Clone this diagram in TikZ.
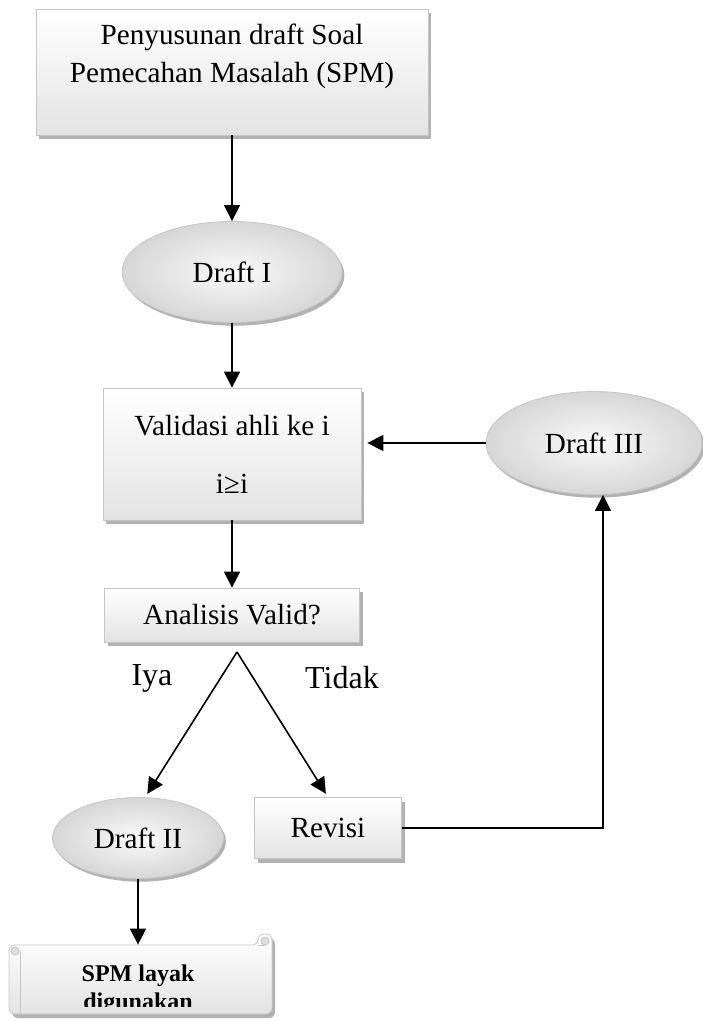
\documentclass[tikz,border=0pt]{standalone}
\usepackage{fontspec}
\setmainfont{Liberation Serif}
\usetikzlibrary{arrows.meta,shapes.geometric,shadows}

\begin{document}
\begin{tikzpicture}[x=0.5pt,y=-0.5pt,
  font=\fontsize{14.6}{19}\selectfont,
  kotak/.style={draw=gray!45,top color=white,bottom color=gray!22,
    inner sep=0pt,align=center,
    drop shadow={shadow xshift=1.6pt,shadow yshift=-2pt,fill=gray!60,opacity=1}},
  oval/.style={ellipse,draw=gray!45,inner color=gray!4,outer color=gray!32,
    inner sep=0pt,
    drop shadow={shadow xshift=1.2pt,shadow yshift=-1.6pt,fill=gray!60,opacity=1}},
  label/.style={font=\fontsize{16}{19}\selectfont},
  arr/.style={-{Triangle[length=8pt,width=8pt]},line width=0.8pt}]
  \useasboundingbox (0,0) rectangle (702,1021);

  \node[kotak,minimum width=196pt,minimum height=63pt] (susun) at (232,72)
    {Penyusunan draft Soal\\ Pemecahan Masalah (SPM)\\ \mbox{}};
  \node[oval,minimum width=110pt,minimum height=50.5pt] (d1) at (232,272) {Draft I};
  \node[kotak,minimum width=129pt,minimum height=66pt] (valid) at (232,454)
    {Validasi ahli ke i\\[10pt] i≥i};
  \node[kotak,minimum width=127.5pt,minimum height=27pt] (anal) at (232,615)
    {Analisis Valid?};
  \coordinate (cabang) at (237,652);
  \node[label] (iya) at (152,678) {Iya};
  \node[label] (tidak) at (342,678) {Tidak};
  \node[oval,minimum width=85.5pt,minimum height=40.5pt] (d2) at (138,838) {Draft II};
  \node[kotak,minimum width=73.5pt,minimum height=30.5pt] (rev) at (328,828) {Revisi};
  \node[oval,minimum width=108pt,minimum height=51.5pt] (d3) at (594,443) {Draft III};

  % gulungan (scroll) di bawah
  \fill[gray!60,rounded corners=3pt] (12,1018) -- (12,949) -- (261,949)
    -- (261,938) -- (275,938) -- (275,1018) -- cycle;
  \draw[draw=gray!45,top color=white,bottom color=gray!22,rounded corners=3pt]
    (9,1014) -- (9,945) -- (258,945) -- (258,934) -- (272,934) -- (272,1014) -- cycle;
  \draw[gray!45,fill=gray!25] (15,951) circle[radius=4];
  \draw[gray!45] (20,951) -- (20,1014);
  \draw[gray!45,fill=gray!25] (265,941) circle[radius=4];
  \draw[gray!45] (258,945) -- (265,945);
  \begin{scope}
    \clip (0,0) rectangle (702,1006);
    \node[font=\fontsize{12}{13.8}\selectfont\bfseries,align=center,
      minimum width=131pt,minimum height=45pt,inner sep=0pt] (layak) at (138,990)
      {SPM layak\\ digunakan};
  \end{scope}

  \draw[arr] (susun) -- (d1);
  \draw[arr] (d1) -- (valid);
  \draw[arr] (valid) -- (anal);
  \draw[arr,shorten >=2pt] (cabang) -- (d2.80);
  \draw[arr,shorten >=2pt] (cabang) -- (rev.north);
  \draw[arr] (rev.east) -| ([xshift=4.5pt]d3.south);
  \draw[arr,shorten >=3pt] (d3.west) -- (d3.west -| valid.east);
  \draw[arr] (d2) -- (layak);
\end{tikzpicture}
\end{document}
